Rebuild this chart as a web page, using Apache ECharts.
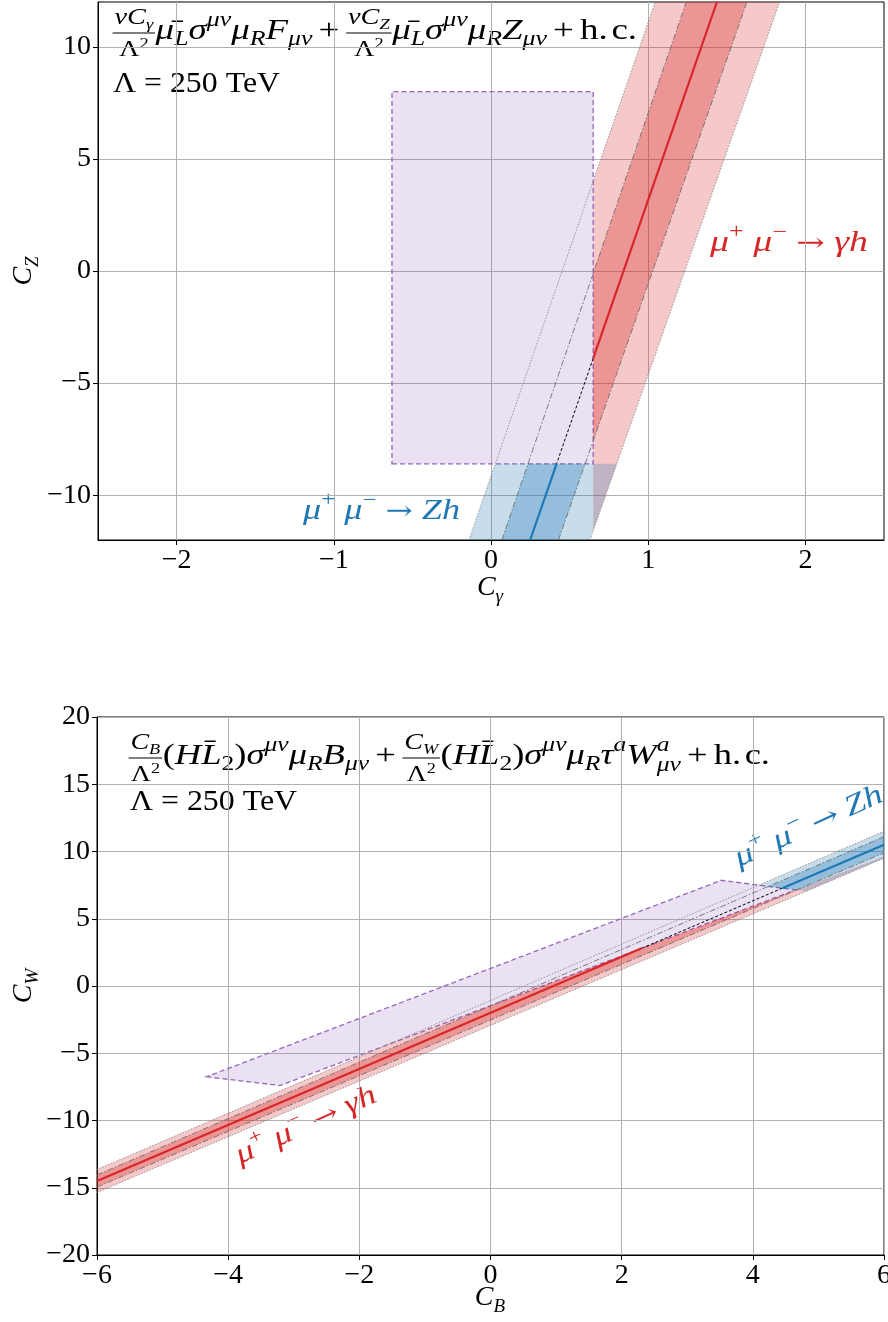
<!DOCTYPE html>
<html>
<head>
<meta charset="utf-8">
<title>dipole operators</title>
<script src="https://cdn.jsdelivr.net/npm/echarts@6/dist/echarts.min.js"></script>
<style>
html, body { margin: 0; padding: 0; background: #fff; }
#main { width: 888px; height: 1322px; }
</style>
</head>
<body>
<div id="main"></div>
<script>
// ---- top panel (C_gamma, C_Z), band edges given at C_Z = -12 and C_Z = 12
var topBox = [[-0.63, -8.6], [0.65, -8.6], [0.65, 8.0], [-0.63, 8.0]];
var topLightLo = [[-0.14, -12], [1.045, 12]];
var topDarkLo = [[0.069, -12], [1.242, 12]];
var topMid = [[0.249, -12], [1.437, 12]];
var topDarkHi = [[0.429, -12], [1.628, 12]];
var topLightHi = [[0.629, -12], [1.836, 12]];
var topXTicks = [-2, -1, 0, 1, 2];
var topYTicks = [-10, -5, 0, 5, 10];

// ---- bottom panel (C_B, C_W), band edges given at C_B = -6 and C_B = 6
var botBox = [[-4.33, -6.75], [-3.21, -7.40], [4.65, 7.14], [3.52, 7.86]];
var botLightLo = [[-6, -15.35], [6, 9.5]];
var botDarkLo = [[-6, -14.95], [6, 9.9]];
var botMid = [[-6, -14.5], [6, 10.5]];
var botDarkHi = [[-6, -14.05], [6, 11.1]];
var botLightHi = [[-6, -13.65], [6, 11.5]];

var RED = '#d62728', BLUE = '#1f77b4', PURPLE = '#9467bd';
var FONT = 'Liberation Serif';

// keep the part of a polygon on the same side of line a-b as point ref
function side(a, b, p) { return (b[0] - a[0]) * (p[1] - a[1]) - (b[1] - a[1]) * (p[0] - a[0]); }
function clipHalf(poly, a, b, ref) {
    var sr = side(a, b, ref) > 0 ? 1 : -1;
    var out = [];
    for (var i = 0; i < poly.length; i++) {
        var p = poly[i], q = poly[(i + 1) % poly.length];
        var sp = side(a, b, p) * sr, sq = side(a, b, q) * sr;
        if (sp >= 0) out.push(p);
        if ((sp >= 0) !== (sq >= 0)) {
            var t = sp / (sp - sq);
            out.push([p[0] + t * (q[0] - p[0]), p[1] + t * (q[1] - p[1])]);
        }
    }
    return out;
}
function cross(l, a, b) {
    var d1 = side(a, b, l[0]), d2 = side(a, b, l[1]);
    var t = d1 / (d1 - d2);
    return [l[0][0] + t * (l[1][0] - l[0][0]), l[0][1] + t * (l[1][1] - l[0][1])];
}
function band(lo, hi) { return [lo[0], hi[0], hi[1], lo[1]]; }

function polySeries(g, pts, style, z) {
    return {
        type: 'custom', xAxisIndex: g, yAxisIndex: g, silent: true, z: z, clip: true,
        data: [pts[0]],
        renderItem: function (params, api) {
            return { type: 'polygon', shape: { points: pts.map(function (p) { return api.coord(p); }) }, style: style };
        }
    };
}
function lineSeries(g, pts, color, width, dash, z) {
    return {
        type: 'line', xAxisIndex: g, yAxisIndex: g, data: pts, symbol: 'none', silent: true, z: z,
        lineStyle: { color: color, width: width, type: dash || 'solid' }
    };
}

function panel(g, box, lLo, dLo, mid, dHi, lHi, redCut, blueCut) {
    var s = [];
    var light = band(lLo, lHi), dark = band(dLo, dHi);
    s.push(polySeries(g, box, { fill: 'rgba(148,103,189,0.2)', stroke: PURPLE, lineWidth: 1.3, lineDash: [5, 3] }, 2));
    s.push(polySeries(g, clipHalf(light, redCut[0], redCut[1], redCut[2]), { fill: 'rgba(214,39,40,0.25)' }, 2));
    s.push(polySeries(g, clipHalf(dark, redCut[0], redCut[1], redCut[2]), { fill: 'rgba(214,39,40,0.32)' }, 2));
    s.push(polySeries(g, clipHalf(light, blueCut[0], blueCut[1], blueCut[2]), { fill: 'rgba(31,119,180,0.25)' }, 2));
    s.push(polySeries(g, clipHalf(dark, blueCut[0], blueCut[1], blueCut[2]), { fill: 'rgba(31,119,180,0.3)' }, 2));
    [lLo, lHi].forEach(function (e) { s.push(lineSeries(g, e, '#8a8a8a', 0.9, [1.5, 1.5], 3)); });
    [dLo, dHi].forEach(function (e) { s.push(lineSeries(g, e, '#6e6e6e', 0.9, [6, 2, 1.5, 2], 3)); });
    var pr = cross(mid, redCut[0], redCut[1]);
    var pb = cross(mid, blueCut[0], blueCut[1]);
    var redEnd = side(redCut[0], redCut[1], mid[0]) * side(redCut[0], redCut[1], redCut[2]) > 0 ? mid[0] : mid[1];
    var blueEnd = redEnd === mid[0] ? mid[1] : mid[0];
    s.push(lineSeries(g, [pr, pb], '#000', 1, [3, 2], 4));
    s.push(lineSeries(g, [redEnd, pr], RED, 2.2, 'solid', 4));
    s.push(lineSeries(g, [pb, blueEnd], BLUE, 2.2, 'solid', 4));
    return s;
}

var series = []
    .concat(panel(0, topBox, topLightLo, topDarkLo, topMid, topDarkHi, topLightHi,
        [topBox[1], topBox[2], [2, 0]], [topBox[0], topBox[1], [0, -12]]))
    .concat(panel(1, botBox, botLightLo, botDarkLo, botMid, botDarkHi, botLightHi,
        [botBox[1], botBox[2], [0, -10]], [botBox[2], botBox[3], [6, 12]]));

// ---- math-like text built from small pieces
var mctx = document.createElement('canvas').getContext('2d');
function P(t, itl, sz, dy, fam) { return { t: t, it: itl, sz: sz, dy: dy || 0, fam: fam || FONT }; }
function fontStr(p) { return (p.it ? 'italic ' : '') + p.sz + 'px "' + p.fam + '"'; }
function pw(p) {
    if (p.gap) return p.gap;
    if (p.frac) return Math.max(runW(p.num), runW(p.den)) + 4;
    if (p.ss) return Math.max(pw(p.sup), pw(p.sub));
    mctx.font = fontStr(p);
    return mctx.measureText(p.t).width;
}
function runW(list) { var w = 0; list.forEach(function (p) { w += pw(p); }); return w; }
function lay(list, x, base, color, out) {
    list.forEach(function (p) {
        var w = pw(p);
        if (p.gap) {
            // nothing to draw
        } else if (p.frac) {
            lay(p.num, x + (w - runW(p.num)) / 2, base - p.up, color, out);
            lay(p.den, x + (w - runW(p.den)) / 2, base + p.down, color, out);
            out.push({ type: 'line', shape: { x1: x + 0.5, y1: base - p.bar, x2: x + w - 0.5, y2: base - p.bar }, style: { stroke: color, lineWidth: 1.2 } });
        } else if (p.ss) {
            lay([p.sup], x, base, color, out);
            lay([p.sub], x, base, color, out);
        } else {
            out.push({
                type: 'text', x: x, y: base + p.dy - 0.34 * p.sz,
                style: { text: p.t, fontFamily: p.fam, fontSize: p.sz, fontStyle: p.it ? 'italic' : 'normal', fill: color, align: 'left', verticalAlign: 'middle' }
            });
        }
        x += w;
    });
}
// width: stretch horizontally to the width measured on the picture
function mathGroup(list, x, y, color, opt) {
    opt = opt || {};
    var out = [];
    var w = runW(list);
    var sx = opt.width ? opt.width / w : 1;
    lay(list, opt.center ? -w / 2 : 0, 0, color, out);
    return { type: 'group', x: x, y: y, rotation: opt.rot || 0, scaleX: sx, children: out, silent: true };
}

var S = 30, s = 21, f = 23, ss = 15, SUB = 6, SUP = -13;
function it(t, sz, dy) { return P(t, true, sz || S, dy); }
function rm(t, sz, dy) { return P(t, false, sz || S, dy); }
function gap(w) { return { gap: w }; }
function frac(num, den) { return { frac: true, num: num, den: den, up: 15, down: 17, bar: 8 }; }
var lam2 = function () { return [rm('Λ', f), rm('2', ss, -9)]; };
var plus = function () { return [gap(5), rm('+'), gap(5)]; };
var hc = function () { return plus().concat([rm('h.'), gap(3), rm('c.')]); };

var topLine1 = [
    frac([it('v', f), it('C', f), it('γ', ss, 4)], lam2()),
    it('μ̄'), it('L', s, SUB), it('σ'), it('μν', s, SUP), it('μ'), it('R', s, SUB), it('F'), it('μν', s, SUB)]
    .concat(plus(), [
    frac([it('v', f), it('C', f), it('Z', ss, 4)], lam2()),
    it('μ̄'), it('L', s, SUB), it('σ'), it('μν', s, SUP), it('μ'), it('R', s, SUB), it('Z'), it('μν', s, SUB)], hc());
var botLine1 = [
    frac([it('C', f), it('B', ss, 4)], lam2()),
    rm('('), it('H'), it('L̄'), rm('2', s, SUB), rm(')'), it('σ'), it('μν', s, SUP), it('μ'), it('R', s, SUB), it('B'), it('μν', s, SUB)]
    .concat(plus(), [
    frac([it('C', f), it('W', ss, 4)], lam2()),
    rm('('), it('H'), it('L̄'), rm('2', s, SUB), rm(')'), it('σ'), it('μν', s, SUP), it('μ'), it('R', s, SUB), it('τ'), it('a', s, SUP),
    it('W'), { ss: true, sup: it('a', s, SUP), sub: it('μν', s, SUB + 1) }], hc());
var lamLine = [rm('Λ', 30), rm(' = ', 30), rm('250', 30), rm(' TeV', 30)];
function procLabel(last) {
    return [it('μ', 29), rm('+', 20, -13), it(' μ', 29), rm('−', 20, -13), rm(' ', 29), P('→', false, 26, 0, 'DejaVu Serif'), rm(' ', 29)].concat(last);
}
var gammaH = procLabel([it('γh', 29)]);
var zH = procLabel([it('Zh', 29)]);
var ROT = 24.5 * Math.PI / 180;

var graphics = [
    mathGroup(topLine1, 112, 41, '#000', { width: 525 }),
    mathGroup(lamLine, 113, 94, '#000', { width: 167 }),
    mathGroup(gammaH, 710, 253, RED, { width: 158 }),
    mathGroup(zH, 303, 521, BLUE, { width: 157 }),
    mathGroup([it('C', 28), it('γ', 19, 6)], 490, 597, '#000', { center: true }),
    mathGroup([it('C', 28), it('Z', 19, 6)], 33, 271, '#000', { center: true, rot: Math.PI / 2 }),
    mathGroup(botLine1, 128, 766, '#000', { width: 642 }),
    mathGroup(lamLine, 130, 812, '#000', { width: 167 }),
    mathGroup(zH, 740, 869, BLUE, { width: 160, rot: ROT }),
    mathGroup(gammaH, 241, 1166, RED, { width: 152, rot: ROT }),
    mathGroup([it('C', 28), it('B', 19, 6)], 490, 1307, '#000', { center: true }),
    mathGroup([it('C', 28), it('W', 19, 6)], 33, 986, '#000', { center: true, rot: Math.PI / 2 })
];

function num(v) { return v < 0 ? '−' + Math.abs(v) : String(v); }
function axisCommon(extra) {
    var a = {
        type: 'value',
        axisLine: { show: true, onZero: false, lineStyle: { color: '#000', width: 1 } },
        axisTick: { show: true, length: 5, lineStyle: { color: '#000' } },
        axisLabel: { color: '#000', fontFamily: FONT, fontSize: 28, margin: 7 },
        splitLine: { show: true, lineStyle: { color: '#b0b0b0', width: 1 } }
    };
    for (var k in extra) a[k] = extra[k];
    return a;
}

var chart = echarts.init(document.getElementById('main'));
chart.setOption({
    animation: false,
    grid: [
        { left: 98, top: 2, width: 786, height: 538, show: true, borderColor: '#000', borderWidth: 1, outerBoundsMode: 'none', containLabel: false },
        { left: 97, top: 717, width: 787, height: 538, show: true, borderColor: '#000', borderWidth: 1, outerBoundsMode: 'none', containLabel: false }
    ],
    xAxis: [
        axisCommon({ gridIndex: 0, min: -2.5, max: 2.5, minInterval: 1, maxInterval: 1 }),
        axisCommon({ gridIndex: 1, min: -6, max: 6, interval: 2 })
    ],
    yAxis: [
        axisCommon({ gridIndex: 0, min: -12, max: 12, minInterval: 5, maxInterval: 5 }),
        axisCommon({ gridIndex: 1, min: -20, max: 20, interval: 5 })
    ],
    series: series,
    graphic: graphics
});
// only the round values get a label and a tick mark
chart.setOption({
    xAxis: [{
        axisLabel: { formatter: function (v) { return topXTicks.indexOf(v) >= 0 ? num(v) : ''; } },
        axisTick: { customValues: topXTicks }
    }, { axisLabel: { formatter: num } }],
    yAxis: [{
        axisLabel: { formatter: function (v) { return topYTicks.indexOf(v) >= 0 ? num(v) : ''; } },
        axisTick: { customValues: topYTicks }
    }, { axisLabel: { formatter: num } }]
});
window.onresize = function () { chart.resize(); };
</script>
</body>
</html>
